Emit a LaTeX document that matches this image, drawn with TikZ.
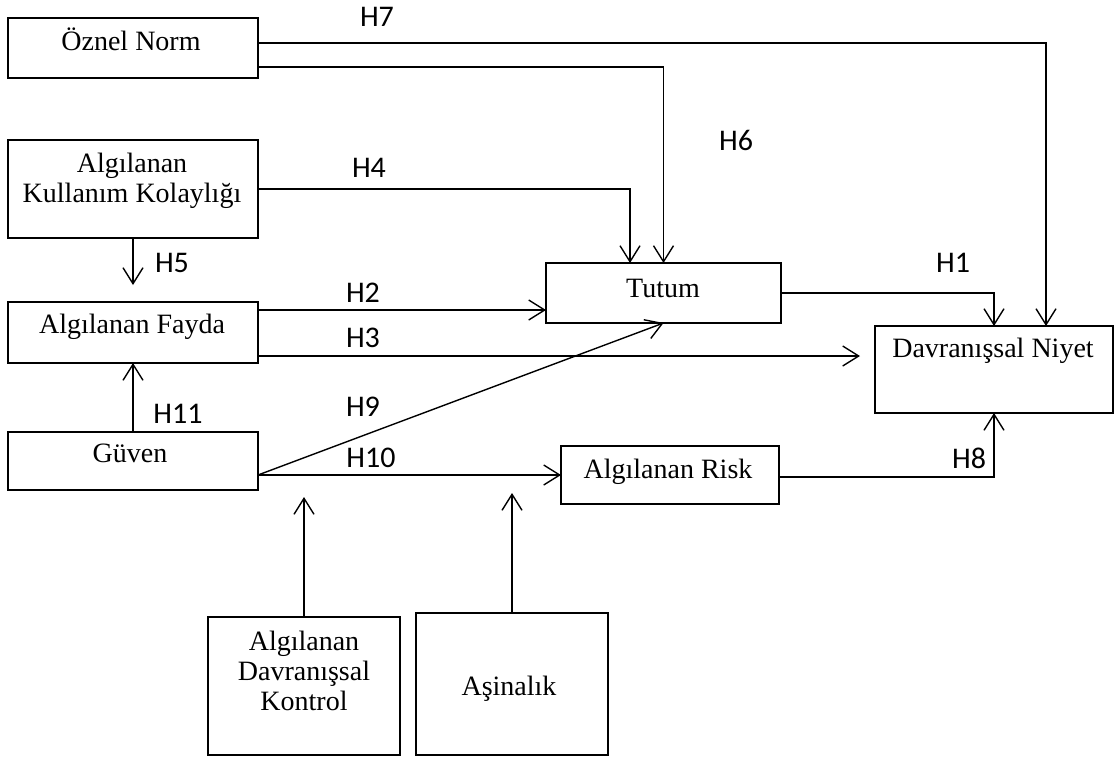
\documentclass[tikz,border=0pt]{standalone}
\usepackage{fontspec}
\setmainfont{Liberation Serif}
\newfontfamily\hfont{Carlito}
\usetikzlibrary{arrows.meta,calc}
\tikzset{
  box/.style={draw, line width=1.4pt, inner sep=0pt, outer sep=0pt, anchor=north west},
  txt/.style={anchor=base, inner sep=0pt, font=\fontsize{28}{30}\selectfont},
  hl/.style={anchor=base, inner sep=0pt, font=\hfont\fontsize{30}{32}\selectfont},
  arr/.style={line width=1.4pt, -{Straight Barb[length=16pt,width=20pt,line width=1.4pt]}},
  ln/.style={line width=1.4pt}
}
\begin{document}
\begin{tikzpicture}[x=1pt,y=-1pt]
\useasboundingbox (0,0) rectangle (1114,761);
% boxes
\node[box, minimum width=250pt, minimum height=60pt] (on) at (8,18) {};
\node[box, minimum width=250pt, minimum height=98pt] (kk) at (8,140) {};
\node[box, minimum width=250pt, minimum height=61pt] (af) at (8,302) {};
\node[box, minimum width=250pt, minimum height=58pt] (gv) at (8,432) {};
\node[box, minimum width=235pt, minimum height=60pt] (tt) at (546,263) {};
\node[box, minimum width=238pt, minimum height=87pt] (dn) at (875,326) {};
\node[box, minimum width=218pt, minimum height=58pt] (ar) at (561,446) {};
\node[box, minimum width=192pt, minimum height=138pt] (adk) at (208,617) {};
\node[box, minimum width=192pt, minimum height=142pt] (as) at (416,613) {};
% texts
\node[txt] (t1) at (131,50) {Öznel Norm};
\node[txt] (t2) at (132,172) {Algılanan};
\node[txt] (t3) at (132,202) {Kullanım Kolaylığı};
\node[txt] (t4) at (132,333) {Algılanan Fayda};
\node[txt] (t5) at (130,462) {Güven};
\node[txt] (t6) at (663,297) {Tutum};
\node[txt] (t7) at (993,357) {Davranışsal Niyet};
\node[txt] (t8) at (668,478) {Algılanan Risk};
\node[txt] (t9) at (304,650) {Algılanan};
\node[txt] (t10) at (304,680) {Davranışsal};
\node[txt] (t11) at (304,710) {Kontrol};
\node[txt] (t12) at (509,695) {Aşinalık};
% hypothesis labels
\node[hl] (h7) at (377,26) {H7};
\node[hl] (h4) at (369,177) {H4};
\node[hl] (h6) at (736,150) {H6};
\node[hl] (h1) at (953,272) {H1};
\node[hl] (h5) at (172,272) {H5};
\node[hl] (h2) at (363,302) {H2};
\node[hl] (h3) at (363,347) {H3};
\node[hl] (h11) at (178,423) {H11};
\node[hl] (h9) at (363,416) {H9};
\node[hl] (h10) at (371,467) {H10};
\node[hl] (h8) at (969,468) {H8};
% connectors
\draw[arr] ($(on.east)+(0,-5)$) -| ($(dn.north)+(52,0)$);
\draw[arr] ($(on.east)+(0,19)$) -| (tt.north);
\draw[arr] (kk.east) -| ($(tt.north)+(-33.5,0)$);
\draw[arr] (kk.south) -- ($(af.north)+(0,-17)$);
\draw[arr] ($(af.east)+(0,-22.5)$) -- ($(tt.west |- af.east)+(0,-22.5)$);
\draw[arr] ($(af.east)+(0,23.5)$) -- ($(dn.west |- af.east)+(-15,23.5)$);
\draw[arr] (gv.north) -- (af.south);
\draw[arr] ($(gv.east)+(0,14)$) -- (tt.south);
\draw[arr] ($(gv.east)+(0,14)$) -- (ar.west);
\draw[arr] (tt.east) -| (dn.north);
\draw[arr] ($(ar.east)+(0,2)$) -| (dn.south);
\draw[arr] (adk.north) -- ($(adk.north |- ar.west)+(0,22)$);
\draw[arr] (as.north) -- ($(as.north |- ar.west)+(0,18)$);
\end{tikzpicture}
\end{document}
